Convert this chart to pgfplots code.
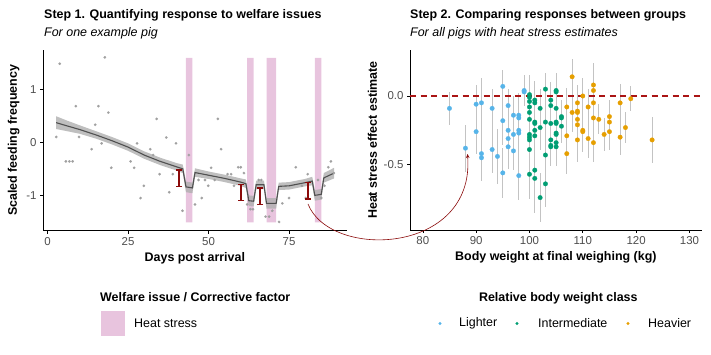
\documentclass[border=0pt]{standalone}
\usepackage{fontspec}
\setmainfont{Liberation Sans}
\usepackage{pgfplots}
\usepackage{pgfplotstable}
\pgfplotsset{compat=1.18}
\usetikzlibrary{arrows.meta}

\definecolor{heatpink}{RGB}{232,196,222}
\definecolor{ptgrey}{RGB}{160,160,160}
\definecolor{ribbon}{RGB}{175,175,175}
\definecolor{fitline}{RGB}{80,80,80}
\definecolor{ebred}{RGB}{139,10,10}
\definecolor{dashred}{RGB}{170,20,20}
\definecolor{ebgrey}{RGB}{195,195,195}
\definecolor{tickgrey}{RGB}{77,77,77}
\definecolor{clight}{RGB}{86,180,233}
\definecolor{cmid}{RGB}{0,158,115}
\definecolor{cheavy}{RGB}{230,159,0}

\pgfplotstableread{
x y
2.7 0.10
3.8 1.48
5.7 -0.36
6.8 -0.36
7.8 -0.36
8.8 0.68
9.8 0.10
13.7 -0.13
14.8 0.33
15.8 0.68
16.8 -0.02
17.8 1.60
18.9 0.56
19.8 -0.48
25.8 -0.36
26.9 -0.48
27.8 -0.02
28.9 -1.05
29.9 -0.82
31.9 -0.13
32.8 -0.24
33.9 0.44
34.8 -0.60
36.9 0.09
37.8 -0.94
38.9 -0.60
39.9 -0.02
41.9 -1.29
43.9 -0.24
45.8 -1.17
46.9 -0.71
47.9 -1.05
48.9 -0.71
49.9 -0.82
50.8 -0.48
51.9 -0.71
52.9 0.44
53.9 -0.13
55.9 -0.60
57.0 -0.60
57.9 -0.82
59.2 -0.47
60.0 -0.47
61.0 -0.58
62.0 -1.17
63.0 -1.26
63.8 -1.26
65.6 -0.71
66.4 -0.71
67.7 -1.40
68.8 -1.40
69.8 -1.29
71.9 -1.50
72.9 -1.15
75.0 -1.05
77.1 -0.47
79.0 -0.82
80.2 -1.05
80.8 -0.60
84.0 -0.71
85.0 -1.05
86.0 -0.82
87.2 -0.47
88.0 -0.36
88.9 -0.58
}\daily

\pgfplotstableread{
x y
2.7 0.37
6 0.31
10 0.24
15 0.14
20 0.03
25 -0.09
30 -0.24
35 -0.36
40 -0.46
42 -0.50
43 -0.84
45 -0.86
45.8 -0.57
50 -0.62
55 -0.68
60 -0.75
61.6 -0.78
62.5 -1.10
64 -1.11
64.8 -0.80
67.2 -0.80
68 -1.15
71 -1.15
71.8 -0.83
75 -0.82
80 -0.76
82.2 -0.73
83 -1.00
85 -0.98
85.8 -0.67
89 -0.58
}\fit

% confidence ribbon: upper bound forward, lower bound backward
\pgfplotstableread{
x y
2.7 0.49
6 0.41
10 0.32
15 0.21
20 0.10
25 -0.02
30 -0.17
35 -0.29
40 -0.39
42 -0.42
43 -0.74
45 -0.76
45.8 -0.49
50 -0.55
55 -0.61
60 -0.68
61.6 -0.70
62.5 -1.00
64 -1.01
64.8 -0.72
67.2 -0.72
68 -1.05
71 -1.05
71.8 -0.76
75 -0.75
80 -0.69
82.2 -0.65
83 -0.90
85 -0.88
85.8 -0.58
89 -0.48
89 -0.68
85.8 -0.76
85 -1.08
83 -1.10
82.2 -0.81
80 -0.83
75 -0.89
71.8 -0.90
71 -1.25
68 -1.25
67.2 -0.88
64.8 -0.88
64 -1.21
62.5 -1.20
61.6 -0.86
60 -0.82
55 -0.75
50 -0.69
45.8 -0.65
45 -0.96
43 -0.94
42 -0.58
40 -0.53
35 -0.43
30 -0.31
25 -0.16
20 -0.04
15 0.07
10 0.16
6 0.21
2.7 0.25
}\ribbonpoly

\pgfplotstableread{
x y e
85 -0.09 0.12
88 -0.38 0.17
90 -0.06 0.14
90 -0.26 0.16
91 -0.05 0.18
91 -0.42 0.20
91 -0.45 0.17
93 -0.09 0.14
93 -0.39 0.17
94 -0.44 0.20
95 0.07 0.12
95 -0.18 0.18
95 -0.56 0.18
96 -0.07 0.12
96 -0.25 0.18
96 -0.31 0.14
96 -0.37 0.16
97 -0.14 0.14
97 -0.28 0.18
97 -0.40 0.14
98 -0.14 0.16
98 -0.16 0.17
98 -0.25 0.15
98 -0.27 0.18
98 -0.58 0.18
99 0.04 0.11
99 0.03 0.10
}\lighter

\pgfplotstableread{
x y e
100 0.01 0.14
100 -0.01 0.15
100 -0.04 0.14
100 -0.08 0.16
100 -0.12 0.15
100 -0.17 0.18
100 -0.28 0.16
100 -0.30 0.17
100 -0.32 0.18
100 -0.39 0.19
100 -0.57 0.18
101 -0.03 0.14
101 -0.05 0.15
101 -0.19 0.16
101 -0.20 0.16
101 -0.25 0.18
101 -0.29 0.17
101 -0.54 0.22
101 -0.60 0.25
102 -0.09 0.14
102 -0.23 0.16
102 -0.74 0.18
103 0.05 0.12
103 -0.19 0.15
103 -0.43 0.18
103 -0.64 0.17
104 -0.03 0.13
104 -0.07 0.14
104 -0.20 0.16
104 -0.32 0.15
104 -0.36 0.15
104 -0.37 0.14
105 0.04 0.13
105 0.03 0.13
105 -0.09 0.14
105 -0.19 0.15
105 -0.20 0.15
105 -0.27 0.16
105 -0.28 0.16
105 -0.34 0.15
105 -0.37 0.14
106 -0.15 0.12
106 -0.16 0.12
106 -0.22 0.12
}\intermediate

\pgfplotstableread{
x y e
107 -0.08 0.14
107 -0.29 0.15
107 -0.42 0.15
108 0.14 0.13
108 -0.12 0.14
109 -0.05 0.13
109 -0.11 0.14
109 -0.12 0.14
109 -0.17 0.15
109 -0.21 0.15
109 -0.32 0.16
110 0.00 0.13
110 -0.25 0.16
110 -0.26 0.15
111 -0.08 0.13
111 -0.31 0.14
112 0.08 0.16
112 0.04 0.15
112 -0.05 0.15
112 -0.16 0.17
112 -0.34 0.14
113 -0.17 0.11
114 -0.28 0.12
115 -0.15 0.12
115 -0.19 0.14
115 -0.26 0.13
117 -0.05 0.14
117 -0.30 0.13
118 -0.23 0.11
119 -0.02 0.09
123 -0.32 0.17
}\heavier

\pgfplotsset{
  panel/.style={
    scale only axis,
    anchor=south west,
    axis lines=left,
    axis line style={-, line width=0.8bp, black},
    tick align=outside,
    major tick length=3bp,
    tick style={black, line width=0.6bp},
    /pgf/number format/assume math mode=true,
    ticklabel style={font=\fontsize{11.5}{13}\selectfont, text=tickgrey},
    label style={font=\fontsize{12.5}{15}\selectfont\bfseries},
  },
  grp/.style={only marks, mark=*, mark size=2.3bp, mark options={fill=#1, draw=#1, line width=0.2bp},
    error bars/.cd, y dir=both, y explicit, error mark=none,
    error bar style={ebgrey, line width=0.7bp}},
  ibar/.style={ebred, line width=1.8bp, mark=-, mark size=3bp, mark options={ebred, line width=1.4bp}},
}

\begin{document}
\begin{tikzpicture}
\path[use as bounding box] (0bp,0bp) rectangle (711bp,355bp);

% ---------- Left panel ----------
\begin{axis}[panel,
  at={(43bp,124.3bp)}, width=303.7bp, height=180.7bp,
  xmin=-1.4, xmax=92.9, ymin=-1.665, ymax=1.738,
  xtick={0,25,50,75}, ytick={-1,0,1},
  xlabel={Days post arrival},
  ylabel={Scaled feeding frequency},
]
\addplot[fill=heatpink, draw=none] coordinates {(43,-1.51) (45,-1.51) (45,1.59) (43,1.59) (43,-1.51)};
\addplot[fill=heatpink, draw=none] coordinates {(62,-1.51) (64,-1.51) (64,1.59) (62,1.59) (62,-1.51)};
\addplot[fill=heatpink, draw=none] coordinates {(68,-1.51) (71,-1.51) (71,1.59) (68,1.59) (68,-1.51)};
\addplot[fill=heatpink, draw=none] coordinates {(83,-1.51) (85,-1.51) (85,1.59) (83,1.59) (83,-1.51)};
\addplot[only marks, mark=*, mark size=1.3bp, mark options={fill=ptgrey, draw=ptgrey, line width=0.1bp}] table[x=x,y=y]{\daily};
\addplot[fill=ribbon, fill opacity=0.8, draw=none] table[x=x,y=y]{\ribbonpoly};
\addplot[fitline, line width=1.1bp] table[x=x,y=y]{\fit};
\addplot[ibar] coordinates {(40.9,-0.52) (40.9,-0.83)};
\addplot[ibar] coordinates {(60.2,-0.79) (60.2,-1.10)};
\addplot[ibar] coordinates {(66.0,-0.86) (66.0,-1.17)};
\addplot[ibar] coordinates {(80.8,-0.76) (80.8,-1.07)};
\end{axis}

% ---------- Right panel ----------
\begin{axis}[panel,
  at={(410bp,125bp)}, width=291.7bp, height=180bp,
  xmin=77.6, xmax=132.3, ymin=-0.976, ymax=0.335,
  xtick={80,90,100,110,120,130}, ytick={-0.5,0},
  yticklabel style={/pgf/number format/.cd, fixed, fixed zerofill, precision=1},
  xlabel={Body weight at final weighing (kg)},
  ylabel={Heat stress effect estimate},
]
\addplot[grp=clight] table[x=x,y=y,y error=e]{\lighter};
\addplot[grp=cmid] table[x=x,y=y,y error=e]{\intermediate};
\addplot[grp=cheavy] table[x=x,y=y,y error=e]{\heavier};
\addplot[dashred, line width=1.1bp, dash pattern=on 6bp off 4.5bp] coordinates {(77.6,0) (132.3,0)};
\end{axis}

% ---------- arrow ----------
\draw[ebred, line width=0.6bp, -{Stealth[length=4bp, width=3.5bp]}]
  (308bp,151bp) .. controls (330bp,95bp) and (475bp,100bp) .. (467.5bp,201bp);

% ---------- titles ----------
\node[anchor=base west, inner sep=0pt, font=\fontsize{12.5}{15}\selectfont\bfseries] at (44bp,336.5bp) {Step 1. Quantifying response to welfare issues};
\node[anchor=base west, inner sep=0pt, font=\fontsize{12.5}{15}\selectfont\itshape] at (44bp,318bp) {For one example pig};
\node[anchor=base west, inner sep=0pt, font=\fontsize{12.5}{15}\selectfont\bfseries] at (410bp,336.5bp) {Step 2. Comparing responses between groups};
\node[anchor=base west, inner sep=0pt, font=\fontsize{12.5}{15}\selectfont\itshape] at (410bp,318bp) {For all pigs with heat stress estimates};

% ---------- legends ----------
\node[anchor=base west, inner sep=0pt, font=\fontsize{12.5}{15}\selectfont\bfseries] at (100bp,53bp) {Welfare issue / Corrective factor};
\fill[heatpink] (101bp,19bp) rectangle (125bp,44bp);
\node[anchor=west, inner sep=0pt, font=\fontsize{12.5}{15}\selectfont] at (134bp,31.5bp) {Heat stress};

\node[anchor=base, inner sep=0pt, font=\fontsize{12.5}{15}\selectfont\bfseries] at (558.3bp,53bp) {Relative body weight class};
\fill[clight] (440bp,31.5bp) circle (1.6bp);
\node[anchor=west, inner sep=0pt, font=\fontsize{12.5}{15}\selectfont] at (459bp,31.5bp) {Lighter};
\fill[cmid] (517bp,31.5bp) circle (1.6bp);
\node[anchor=west, inner sep=0pt, font=\fontsize{12.5}{15}\selectfont] at (538bp,31.5bp) {Intermediate};
\fill[cheavy] (628bp,31.5bp) circle (1.6bp);
\node[anchor=west, inner sep=0pt, font=\fontsize{12.5}{15}\selectfont] at (648bp,31.5bp) {Heavier};
\end{tikzpicture}
\end{document}
